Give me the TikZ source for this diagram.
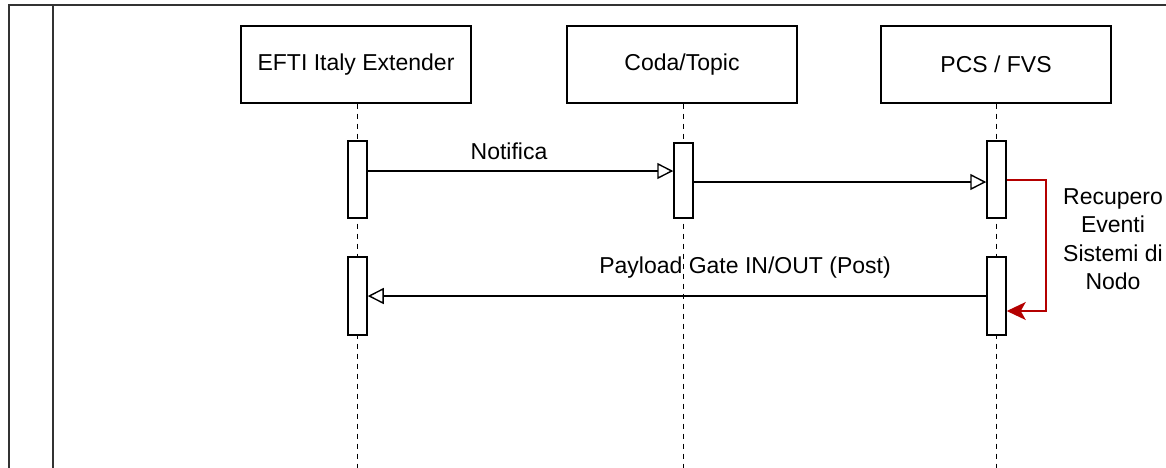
\documentclass[tikz,border=0pt]{standalone}
\usepackage{fontspec}
\setmainfont{Liberation Sans}
\usetikzlibrary{arrows.meta}
\begin{document}
\begin{tikzpicture}[x=1pt,y=-1pt,
  every node/.style={font=\fontsize{23}{27}\selectfont},
  actor/.style={draw, line width=1.4pt, minimum width=230pt, minimum height=77pt, inner sep=0pt, fill=white},
  act/.style={draw, line width=1.5pt, fill=white, minimum width=19pt, inner sep=0pt},
  life/.style={line width=1.4pt, dash pattern=on 5pt off 5pt},
  msg/.style={line width=1.4pt, -{Triangle[open, length=16pt, width=16pt, line width=1.4pt]}},
  selfmsg/.style={line width=1.4pt, draw={rgb,255:red,180;green,0;blue,0}, -{Stealth[length=19pt, width=18pt, inset=5pt, fill={rgb,255:red,180;green,0;blue,0}]}}
]
\useasboundingbox (0,0) rectangle (1166,467);
% frame
\draw[line width=1.8pt, draw=black!80] (9,470) -- (9,5) -- (1170,5);
\draw[line width=1.8pt, draw=black!80] (53,470) -- (53,5);
% lifelines
\coordinate (l1) at (357.5,470);
\coordinate (l2) at (683.5,470);
\coordinate (l3) at (996.5,470);
\node[actor] (a1) at (356,64.5) {EFTI Italy Extender};
\node[actor] (a2) at (682,64.5) {Coda/Topic};
\node[actor] (a3) at (996,64.5) {PCS / FVS};
\draw[life] (a1.south -| l1) -- (l1);
\draw[life] (a2.south -| l2) -- (l2);
\draw[life] (a3.south -| l3) -- (l3);
% activations
\node[act, minimum height=77pt] (e1) at (357.5,179.5) {};
\node[act, minimum height=78pt] (e2) at (357.5,296) {};
\node[act, minimum height=75pt] (c1) at (683.5,180.5) {};
\node[act, minimum height=77pt] (p1) at (996.5,179.5) {};
\node[act, minimum height=78pt] (p2) at (996.5,296) {};
% messages
\draw[msg] (e1.east |- 0,171) -- (c1.west |- 0,171);
\node at (509,151) {Notifica};
\draw[msg] (c1.east |- 0,182) -- (p1.west |- 0,182);
\draw[msg] (p2.west) -- (e2.east);
\node at (745,268) {Payload Gate IN/OUT (Post)};
\coordinate (r1) at (1046,180);
\coordinate (r2) at (1046,311);
\draw[selfmsg] (p1.east |- r1) -- (r1) -- (r2) -- (p2.east |- r2);
\node[align=center, font=\fontsize{23}{28.5}\selectfont] (lab) at (1113,239) {Recupero\\Eventi\\Sistemi di\\Nodo};
\end{tikzpicture}
\end{document}
